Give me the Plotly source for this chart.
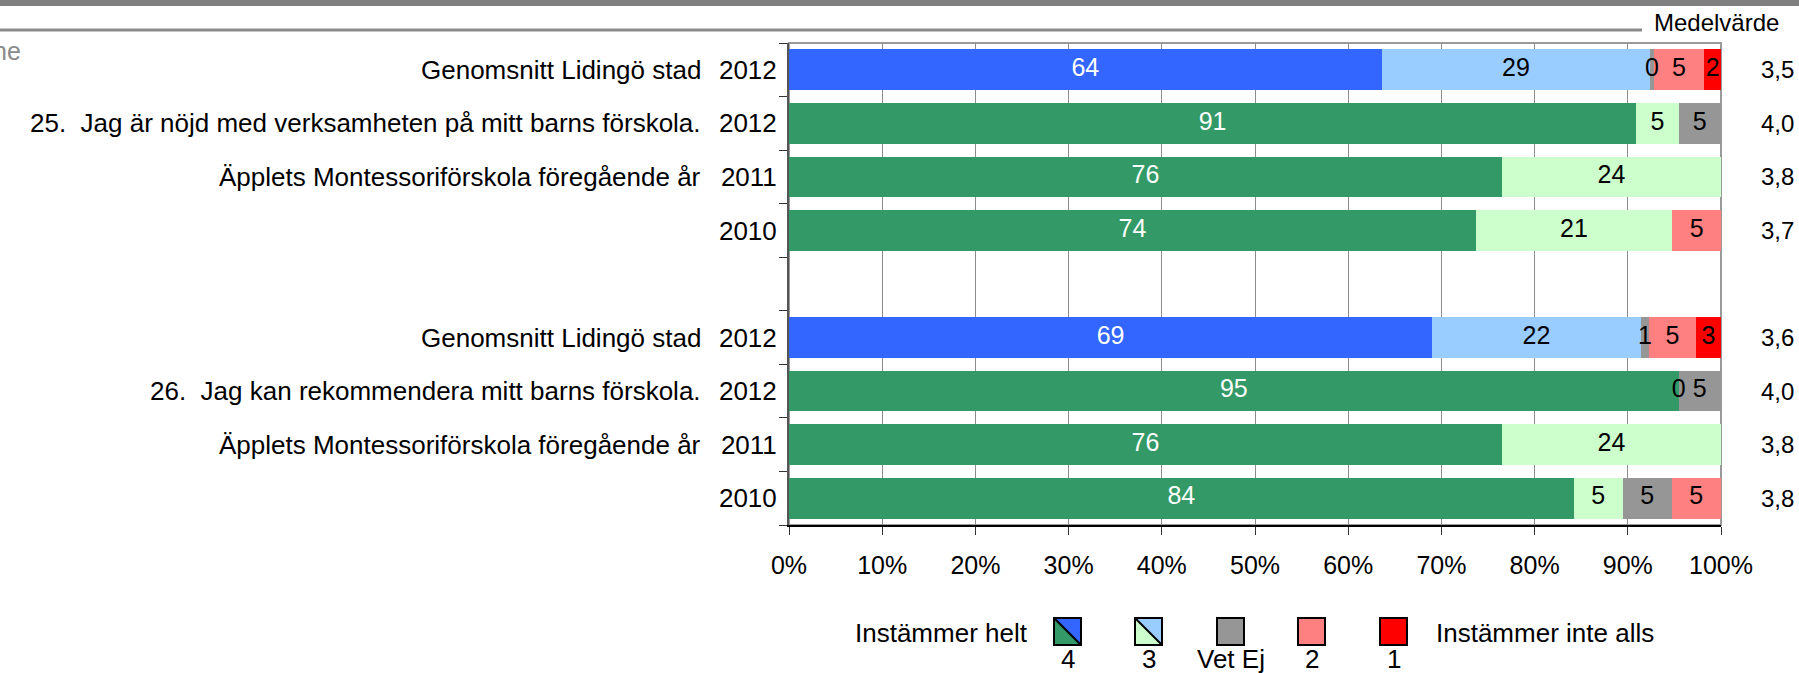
import plotly.graph_objects as go

# ---------------- data ----------------
rows = [0, 1, 2, 3, 5, 6, 7, 8]
years = ["2012", "2012", "2011", "2010", "2012", "2012", "2011", "2010"]
questions = [
    "Genomsnitt Lidingö stad",
    "25.\u00a0 Jag är nöjd med verksamheten på mitt barns förskola.",
    "Äpplets Montessoriförskola föregående år",
    "",
    "Genomsnitt Lidingö stad",
    "26.\u00a0 Jag kan rekommendera mitt barns förskola.",
    "Äpplets Montessoriförskola föregående år",
    "",
]
is_average = [True, False, False, False, True, False, False, False]

cat4 = [63.6, 90.9, 76.5, 73.7, 69.0, 95.45, 76.5, 84.2]
cat3 = [28.8, 4.55, 23.5, 21.05, 22.4, 0.0, 23.5, 5.26]
vetej = [0.4, 4.55, None, None, 0.9, 4.55, None, 5.26]
cat2 = [5.4, None, None, 5.26, 5.0, None, None, 5.26]
cat1 = [1.8, None, None, None, 2.7, None, None, None]
means = [3.5, 4.0, 3.8, 3.7, 3.6, 4.0, 3.8, 3.8]

legend_labels = ["4", "3", "Vet Ej", "2", "1"]
x_ticks = [0, 10, 20, 30, 40, 50, 60, 70, 80, 90, 100]

# ---------------- styling ----------------
FONT = "Liberation Sans, Arial, sans-serif"
GREEN, LGREEN = "#339966", "#CCFFCC"
BLUE, LBLUE = "#3366FF", "#99CCFF"
GRAY, PINK, RED = "#969696", "#FF8080", "#FF0000"

W_PX, H_PX = 1799, 673
L, R, T, B = 789, 1721, 43, 525


def pxx(px):
    return (px - L) / (R - L)


def pxy(py):
    return (B - py) / (B - T)


series = [
    (cat4, [BLUE if a else GREEN for a in is_average], "white"),
    (cat3, [LBLUE if a else LGREEN for a in is_average], "black"),
    (vetej, [GRAY] * len(rows), "black"),
    (cat2, [PINK] * len(rows), "black"),
    (cat1, [RED] * len(rows), "black"),
]

fig = go.Figure()
for vals, cols, _ in series:
    fig.add_trace(go.Bar(
        x=[v if v is not None else 0 for v in vals], y=rows, orientation="h",
        marker=dict(color=cols, line=dict(width=0)), showlegend=False,
        hoverinfo="skip",
    ))

# segment labels
lx, ly, lt, lc = [], [], [], []
cum = [0.0] * len(rows)
for vals, _, tcol in series:
    for i, v in enumerate(vals):
        if v is None:
            continue
        lx.append(cum[i] + v / 2)
        ly.append(rows[i])
        lt.append(str(int(round(v))))
        lc.append(tcol)
        cum[i] += v
fig.add_trace(go.Scatter(
    x=lx, y=ly, text=lt, mode="text", textposition="middle center",
    textfont=dict(family=FONT, size=25, color=lc), cliponaxis=False,
    showlegend=False, hoverinfo="skip",
))

annotations = []
for r, q in zip(rows, questions):
    if q:
        annotations.append(dict(x=pxx(703), xref="paper", y=r, yref="y", text=q,
                                showarrow=False, xanchor="right", yanchor="middle",
                                font=dict(family=FONT, size=26, color="black")))
for r, m in zip(rows, means):
    annotations.append(dict(x=pxx(1796), xref="paper", y=r, yref="y",
                            text=f"{m:.1f}".replace(".", ","), showarrow=False,
                            xanchor="right", yanchor="middle",
                            font=dict(family=FONT, size=24, color="black")))
annotations.append(dict(x=pxx(1652), xref="paper", y=pxy(23), yref="paper", text="Medelvärde",
                        showarrow=False, xanchor="left", yanchor="middle",
                        font=dict(family=FONT, size=24, color="black")))
annotations.append(dict(x=pxx(-9), xref="paper", y=pxy(51), yref="paper", text="ne",
                        showarrow=False, xanchor="left", yanchor="middle",
                        font=dict(family=FONT, size=25, color="#8a8a8a")))

# legend
box_cx = [1067.5, 1148.5, 1230.5, 1311.5, 1393.5]
box_fill = [(GREEN, BLUE), (LGREEN, LBLUE), (GRAY, GRAY), (PINK, PINK), (RED, RED)]
half = 13.5
by0, by1 = 618, 645
shapes = []
for cx, (c_ll, c_ur), lab in zip(box_cx, box_fill, legend_labels):
    x0, x1 = pxx(cx - half), pxx(cx + half)
    yt, yb = pxy(by0), pxy(by1)
    shapes.append(dict(type="rect", xref="paper", yref="paper", x0=x0, y0=yb, x1=x1, y1=yt,
                       fillcolor=c_ll, line=dict(width=0)))
    if c_ll != c_ur:
        shapes.append(dict(type="path", xref="paper", yref="paper",
                           path=f"M {x0},{yt} L {x1},{yt} L {x1},{yb} Z",
                           fillcolor=c_ur, line=dict(width=0)))
        shapes.append(dict(type="line", xref="paper", yref="paper", x0=x0, y0=yt, x1=x1, y1=yb,
                           line=dict(color="black", width=2)))
    shapes.append(dict(type="rect", xref="paper", yref="paper", x0=x0, y0=yb, x1=x1, y1=yt,
                       line=dict(color="black", width=2)))
    annotations.append(dict(x=pxx(cx), xref="paper", y=pxy(659), yref="paper", text=lab,
                            showarrow=False, xanchor="center", yanchor="middle",
                            font=dict(family=FONT, size=26, color="black")))
annotations.append(dict(x=pxx(1030), xref="paper", y=pxy(633), yref="paper", text="Instämmer helt",
                        showarrow=False, xanchor="right", yanchor="middle",
                        font=dict(family=FONT, size=26, color="black")))
annotations.append(dict(x=pxx(1434), xref="paper", y=pxy(633), yref="paper", text="Instämmer inte alls",
                        showarrow=False, xanchor="left", yanchor="middle",
                        font=dict(family=FONT, size=26, color="black")))

# header decorations
shapes.append(dict(type="rect", xref="paper", yref="paper", x0=pxx(0), x1=pxx(W_PX),
                   y0=pxy(6), y1=pxy(0), fillcolor="#808080", line=dict(width=0)))
shapes.append(dict(type="line", xref="paper", yref="paper", x0=pxx(0), x1=pxx(1642),
                   y0=pxy(30), y1=pxy(30), line=dict(color="#8a8a8a", width=3)))
# plot frame (top/right)
shapes.append(dict(type="rect", xref="paper", yref="paper", x0=0, x1=1, y0=0, y1=1,
                   line=dict(color="#9a9a9a", width=2), layer="below"))

fig.update_layout(
    width=W_PX, height=H_PX,
    margin=dict(l=L, r=W_PX - R, t=T, b=H_PX - B, pad=0),
    barmode="stack", bargap=0.24,
    plot_bgcolor="white", paper_bgcolor="white",
    font=dict(family=FONT, size=24, color="black"),
    xaxis=dict(range=[0, 100], tickmode="array", tickvals=x_ticks,
               ticktext=[f"{v}%" for v in x_ticks], ticks="outside",
               ticklen=8, tickcolor="#333", tickwidth=1, showgrid=True,
               gridcolor="#8c8c8c", gridwidth=1, showline=True, linecolor="black",
               linewidth=2, zeroline=False, tickfont=dict(size=25),
               ticklabelstandoff=9, fixedrange=True),
    yaxis=dict(range=[8.5, -0.5], tickmode="array", tickvals=rows, ticktext=years, ticks="",
               showgrid=False, zeroline=False, showline=True, linecolor="#555",
               linewidth=2, tickfont=dict(size=26), ticklabelstandoff=5,
               minor=dict(tickvals=[i - 0.5 for i in range(10)], ticks="outside",
                          ticklen=8, tickcolor="#333", tickwidth=1, showgrid=False),
               fixedrange=True),
    shapes=shapes, annotations=annotations,
)

fig.write_html("out.html", config={"displayModeBar": False},
               post_script="document.body.style.margin='0';document.body.style.overflow='hidden';")
